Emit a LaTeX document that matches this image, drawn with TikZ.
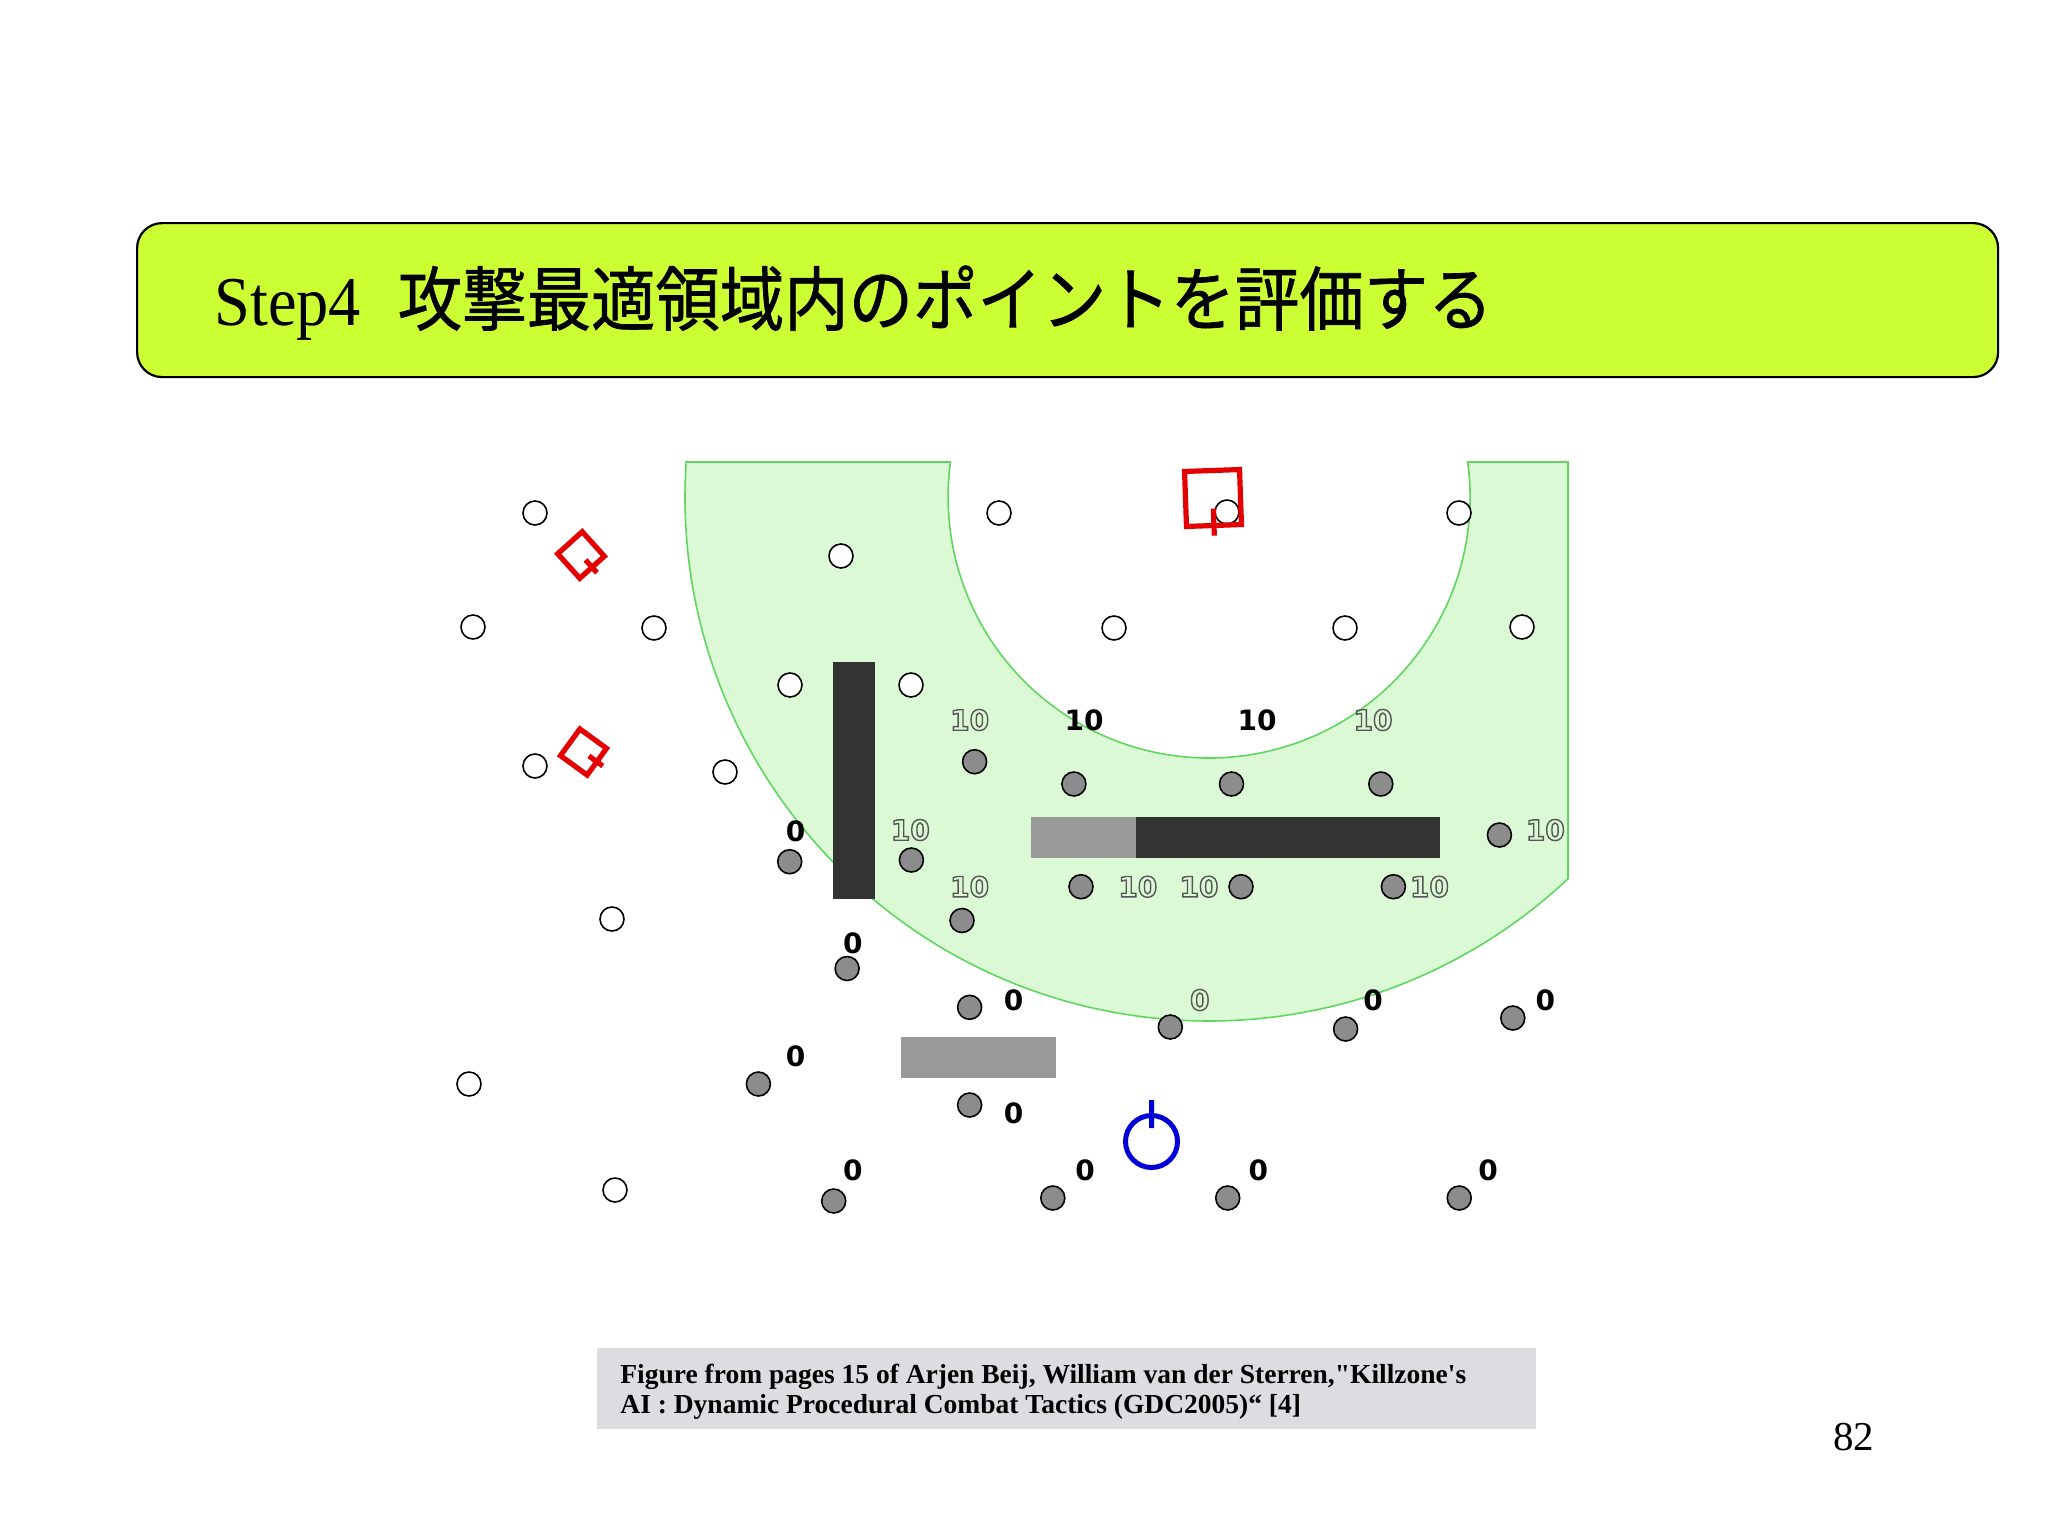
\documentclass[tikz,border=0pt]{standalone}
\usepackage{fontspec}
\setmainfont{Liberation Serif}
\newfontfamily\cjk{Noto Sans CJK JP}[FakeBold=1]
\newfontfamily\lblfont{DejaVu Sans}
\usetikzlibrary{calc, positioning}

\definecolor{titlegreen}{RGB}{204,255,51}
\definecolor{zonefill}{RGB}{220,249,214}
\definecolor{zoneline}{RGB}{96,214,96}
\definecolor{walldark}{RGB}{51,51,51}
\definecolor{walllight}{RGB}{153,153,153}
\definecolor{ptgray}{RGB}{140,140,140}
\definecolor{lblgray}{RGB}{85,85,85}
\definecolor{enemyred}{RGB}{228,0,0}
\definecolor{playerblue}{RGB}{0,0,215}
\definecolor{capgray}{RGB}{221,221,225}

% outlined digits for the unreachable scores
\newcommand\hollow[1]{\special{pdf:literal direct 1 Tr 0.7 w}#1\special{pdf:literal direct 0 Tr}}

\tikzset{
  wpt/.style={circle, draw=black, line width=0.8pt, fill=white, minimum size=12pt, inner sep=0pt},
  gpt/.style={wpt, fill=ptgray},
  lbl/.style={font=\lblfont\bfseries\fontsize{14pt}{14pt}\selectfont, inner sep=0pt},
  glbl/.style={lbl, text=lblgray},
  enemy/.style={rectangle, draw=enemyred, line width=2.6pt, inner sep=0pt},
  enemytick/.style={draw=enemyred, line width=2.6pt},
  player/.style={circle, draw=playerblue, line width=2.5pt, minimum size=26pt, inner sep=0pt},
}

\begin{document}
\begin{tikzpicture}[x=0.5pt, y=-0.5pt]
    \useasboundingbox (0,0) rectangle (2048,1536);
    \fill[white] (0,0) rectangle (2048,1536);

    % title bar
    \node[draw=black, line width=1.1pt, fill=titlegreen, rounded corners=12.5pt, anchor=north west, minimum width=930.5pt, minimum height=77pt] (titlebar) at (136,222) {};
    \node[anchor=base west, inner sep=0pt, font=\fontsize{35pt}{42pt}\selectfont, xscale=0.92, transform shape] (head) at (214,325) {Step4\hspace{20pt}{\cjk 攻撃最適領域内のポイントを評価する}};

    % attack zone
    \fill[zonefill, draw=zoneline, line width=0.8pt] (686.2,462) arc[start angle=183.83, end angle=46.76, radius=524] -- (1568,462) -- (1467.7,462) arc[start angle=-7.71, end angle=187.71, radius=261] -- cycle;

    % walls
    \fill[walldark] (833,662) rectangle (875,899);
    \fill[walllight] (1031,817) rectangle (1136,858);
    \fill[walldark] (1136,817) rectangle (1440,858);
    \fill[walllight] (901,1037) rectangle (1056,1078);

    % rejected points
    \node[wpt] (w1) at (535,513) {};
    \node[wpt] (w2) at (841,556) {};
    \node[wpt] (w3) at (473,627) {};
    \node[wpt] (w4) at (654,628) {};
    \node[wpt] (w5) at (790,685) {};
    \node[wpt] (w6) at (911,685) {};
    \node[wpt] (w7) at (535,766) {};
    \node[wpt] (w8) at (725,772) {};
    \node[wpt] (w9) at (999,513) {};
    \node[wpt] (w10) at (1227,512) {};
    \node[wpt] (w11) at (1459,513) {};
    \node[wpt] (w12) at (1114,628) {};
    \node[wpt] (w13) at (1345,628) {};
    \node[wpt] (w14) at (1522,627) {};
    \node[wpt] (w15) at (612,919) {};
    \node[wpt] (w16) at (469,1084) {};
    \node[wpt] (w17) at (615,1190) {};

    % scored points
    \node[gpt] (g1) at (974.6,761.7) {};
    \node[gpt] (g2) at (789.7,861.7) {};
    \node[gpt] (g3) at (911.4,860) {};
    \node[gpt] (g4) at (962,920.5) {};
    \node[gpt] (g5) at (1073.9,784) {};
    \node[gpt] (g6) at (1231.5,784) {};
    \node[gpt] (g7) at (1380.8,784) {};
    \node[gpt] (g8) at (1499.4,835) {};
    \node[gpt] (g9) at (1081,886.7) {};
    \node[gpt] (g10) at (1241,886.7) {};
    \node[gpt] (g11) at (1393.4,886.7) {};
    \node[gpt] (g12) at (847.1,968.5) {};
    \node[gpt] (g13) at (969.6,1007.3) {};
    \node[gpt] (g14) at (758.4,1084) {};
    \node[gpt] (g15) at (969.6,1105) {};
    \node[gpt] (g16) at (833.7,1201) {};
    \node[gpt] (g17) at (1170.3,1027) {};
    \node[gpt] (g18) at (1345.6,1029) {};
    \node[gpt] (g19) at (1512.8,1018) {};
    \node[gpt] (g20) at (1052.8,1198) {};
    \node[gpt] (g21) at (1227.7,1198) {};
    \node[gpt] (g22) at (1459.2,1198) {};

    % scores
    \node[glbl] (s1) at (969.6,720) {\hollow{10}};
    \node[lbl] (s2) at (795.5,831.7) {0};
    \node[glbl] (s3) at (910.3,830) {\hollow{10}};
    \node[glbl] (s4) at (969.6,886.7) {\hollow{10}};
    \node[lbl] (s5) at (1084.2,720) {10};
    \node[lbl] (s6) at (1257,720) {10};
    \node[glbl] (s7) at (1373,720) {\hollow{10}};
    \node[glbl] (s8) at (1545.3,830) {\hollow{10}};
    \node[glbl] (s9) at (1137.8,886.7) {\hollow{10}};
    \node[glbl] (s10) at (1199,886.7) {\hollow{10}};
    \node[glbl] (s11) at (1429.4,886.7) {\hollow{10}};
    \node[lbl] (s12) at (852.9,943.3) {0};
    \node[lbl] (s13) at (1013.6,1000) {0};
    \node[lbl] (s14) at (795.5,1056.7) {0};
    \node[lbl] (s15) at (1013.6,1113.3) {0};
    \node[lbl] (s16) at (852.9,1170) {0};
    \node[glbl] (s17) at (1199.8,1000) {\hollow{0}};
    \node[lbl] (s18) at (1373,1000) {0};
    \node[lbl] (s19) at (1545.4,1000) {0};
    \node[lbl] (s20) at (1085,1170) {0};
    \node[lbl] (s21) at (1258.3,1170) {0};
    \node[lbl] (s22) at (1488,1170) {0};

    % enemies
    \node[enemy, minimum size=27.5pt, rotate=2] (entop) at (1213,498) {};
    \draw[enemytick] ($(entop.center)!0.35!(entop.south)$) -- ($(entop.center)!1.25!(entop.south)$);
    \node[enemy, minimum size=16.5pt, rotate=42] (enup) at (581,555) {};
    \draw[enemytick] ($(enup.center)!0.35!(enup.south)$) -- ($(enup.center)!1.25!(enup.south)$);
    \node[enemy, minimum size=16.5pt, rotate=54] (enlow) at (583.5,752) {};
    \draw[enemytick] ($(enlow.center)!0.35!(enlow.south)$) -- ($(enlow.center)!1.25!(enlow.south)$);

    % player
    \node[player] (pl) at (1151.5,1141.5) {};
    \draw[playerblue, line width=2.5pt] ($(pl.center)!0.47!(pl.north)$) -- ($(pl.center)!1.45!(pl.north)$);

    % source note
    \node[fill=capgray, anchor=north west, minimum width=469.5pt, minimum height=40.5pt] (capbar) at (597,1348) {};
    \node[anchor=base west, inner sep=0pt, align=left, font=\bfseries\fontsize{13.75pt}{14.7pt}\selectfont] (capline) at (620,1413) {Figure from pages 15 of Arjen Beij, William van der Sterren,\textquotedbl Killzone\textquotesingle s\\AI : Dynamic Procedural Combat Tactics (GDC2005)“ [4]};

    \node[anchor=base west, inner sep=0pt, font=\fontsize{20.5pt}{24pt}\selectfont] (pgno) at (1833,1450) {82};

\end{tikzpicture}
\end{document}
